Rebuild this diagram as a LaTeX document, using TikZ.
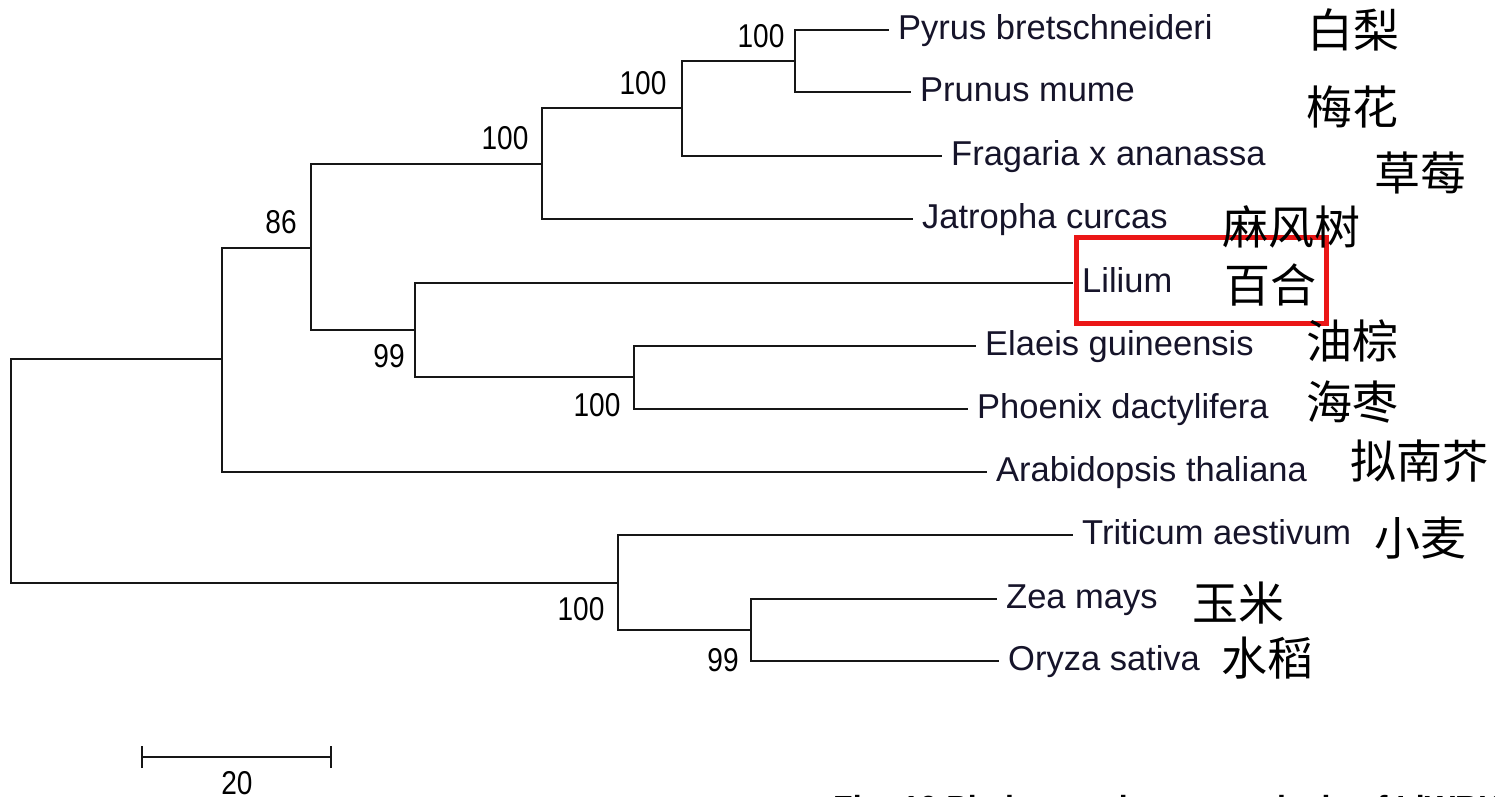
\documentclass[tikz,border=0pt]{standalone}
\usepackage{fontspec}
\setmainfont{Liberation Sans}
\newfontfamily\cjk{Noto Sans CJK SC}
\newcommand\bootval[1]{\scalebox{0.85}[1]{#1}}
\definecolor{tipink}{RGB}{22,20,42}
\definecolor{branchink}{RGB}{22,22,22}
\definecolor{hlred}{RGB}{235,22,22}
\tikzset{
  branch/.style={draw=branchink, line width=2.3pt, line join=miter},
  tiplabel/.style={anchor=west, inner xsep=9pt, inner ysep=0pt,
    text height=26pt, text depth=8pt, text=tipink,
    font=\fontsize{34.5}{40}\selectfont},
  boot/.style={inner sep=0pt, text=black, font=\fontsize{33}{36}\selectfont},
  cname/.style={inner sep=0pt, text height=40pt, text depth=6pt, text=black,
    font=\cjk\fontsize{46}{50}\selectfont},
  highlight/.style={draw=hlred, line width=5pt},
}
\begin{document}
\begin{tikzpicture}[x=1pt, y=-1pt]
\useasboundingbox[fill=white] (0,0) rectangle (1495,796);

% internal nodes of the tree (x of the split, y of the incoming branch)
\coordinate (root) at (11,471);
\coordinate (n7) at (222,359);
\coordinate (n4) at (311,248);
\coordinate (n3) at (542,164);
\coordinate (n2) at (682,108);
\coordinate (n1) at (795,61);
\coordinate (n5) at (415,330);
\coordinate (n6) at (634,377);
\coordinate (n8) at (618,583);
\coordinate (n9) at (751,630);

% highlight around the lily
\draw[highlight] (1076,237) rectangle (1326,323);

% leaves
\node[tiplabel] (pyrus)  at (889,30)  {Pyrus bretschneideri};
\node[tiplabel] (prunus) at (911,92)  {Prunus mume};
\node[tiplabel] (fraga)  at (942,156) {Fragaria x ananassa};
\node[tiplabel] (jatro)  at (913,219) {Jatropha curcas};
\node[tiplabel] (lilium) at (1073,283) {Lilium};
\node[tiplabel] (elaeis) at (976,346) {Elaeis guineensis};
\node[tiplabel] (phoen)  at (968,409) {Phoenix dactylifera};
\node[tiplabel] (arabi)  at (987,472) {Arabidopsis thaliana};
\node[tiplabel] (triti)  at (1073,535) {Triticum aestivum};
\node[tiplabel] (zea)    at (997,599) {Zea mays};
\node[tiplabel] (oryza)  at (999,661) {Oryza sativa};

% branches
\draw[branch] (root) |- (n7);
\draw[branch] (root) |- (n8);
\draw[branch] (n7) |- (n4);
\draw[branch] (n7) |- (arabi.west);
\draw[branch] (n4) |- (n3);
\draw[branch] (n4) |- (n5);
\draw[branch] (n3) |- (n2);
\draw[branch] (n3) |- (jatro.west);
\draw[branch] (n2) |- (n1);
\draw[branch] (n2) |- (fraga.west);
\draw[branch] (n1) |- (pyrus.west);
\draw[branch] (n1) |- (prunus.west);
\draw[branch] (n5) |- (lilium.west);
\draw[branch] (n5) |- (n6);
\draw[branch] (n6) |- (elaeis.west);
\draw[branch] (n6) |- (phoen.west);
\draw[branch] (n8) |- (triti.west);
\draw[branch] (n8) |- (n9);
\draw[branch] (n9) |- (zea.west);
\draw[branch] (n9) |- (oryza.west);

% bootstrap values
\node[boot] (b1) at (761,36)  {\bootval{100}};
\node[boot] (b2) at (643,83)  {\bootval{100}};
\node[boot] (b3) at (505,138) {\bootval{100}};
\node[boot] (b4) at (281,222) {\bootval{86}};
\node[boot] (b5) at (389,356) {\bootval{99}};
\node[boot] (b6) at (597,405) {\bootval{100}};
\node[boot] (b8) at (581,609) {\bootval{100}};
\node[boot] (b9) at (723,660) {\bootval{99}};

% Chinese common names
\node[cname] (c1)  at (1353,30)  {白梨};
\node[cname] (c2)  at (1352,107) {梅花};
\node[cname] (c3)  at (1420,173) {草莓};
\node[cname] (c4)  at (1291,227) {麻风树};
\node[cname] (c5)  at (1270,285) {百合};
\node[cname] (c6)  at (1352,341) {油棕};
\node[cname] (c7)  at (1352,402) {海枣};
\node[cname] (c8)  at (1419,461) {拟南芥};
\node[cname] (c9)  at (1420,538) {小麦};
\node[cname] (c10) at (1238,603) {玉米};
\node[cname] (c11) at (1267,658) {水稻};

% scale bar
\coordinate (sbL) at (142,757);
\coordinate (sbR) at (331,757);
\draw[branch] (sbL) -- (sbR);
\draw[branch] ([yshift=-11pt]sbL) -- ([yshift=11pt]sbL);
\draw[branch] ([yshift=-11pt]sbR) -- ([yshift=11pt]sbR);
\node[boot] (sbtext) at (237,783) {\bootval{20}};

% figure caption running off the lower edge
\begin{scope}
\clip (0,0) rectangle (1495,796);
\node[anchor=base west, inner sep=0pt, font=\bfseries\fontsize{32}{36}\selectfont]
  (caption) at (833,818) {Fig. 10 Phylogenetic tree analysis of LlWRKY};
\end{scope}
\end{tikzpicture}
\end{document}
